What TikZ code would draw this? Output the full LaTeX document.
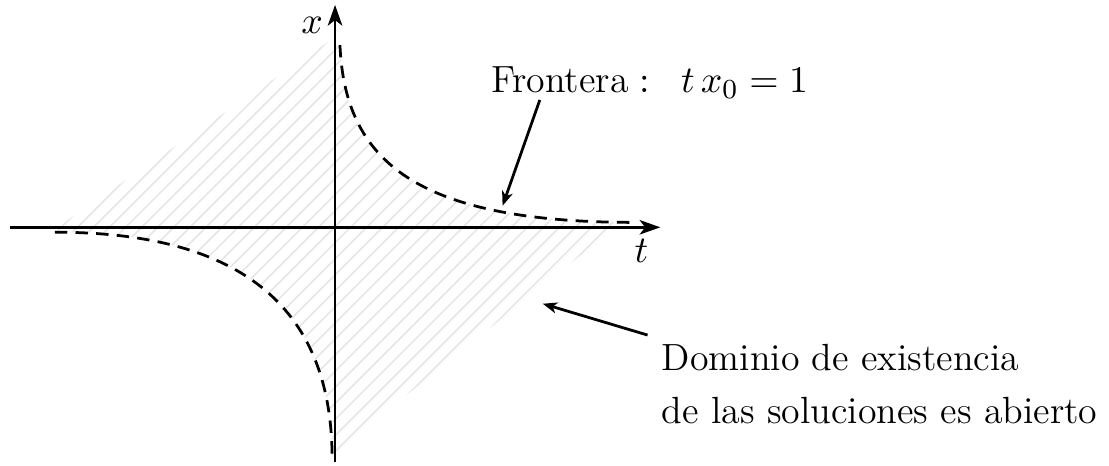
\documentclass[tikz,border=0pt]{standalone}
\usepackage{amsmath}
\usetikzlibrary{arrows.meta,patterns.meta}
\tikzset{
	eje/.style={thick,-{Stealth[length=6pt,width=4.2pt,inset=1.6pt]}},
	frontera/.style={thick,dash pattern=on 3.6pt off 2.4pt},
	flecha/.style={thick,-{Stealth[length=4.2pt,width=3.2pt,inset=1.2pt]}},
	rayado/.style={pattern={Lines[angle=45,distance=3.3pt,line width=.45pt]},pattern color=gray!20}
}
\begin{document}
\begin{tikzpicture}[font=\fontsize{11}{15.2}\selectfont]
		\useasboundingbox (-3.42,-2.43) rectangle (7.9,2.32);
		\coordinate (tmin) at (-3.32,0);
		\coordinate (tmax) at (3.32,0);
		\coordinate (xmin) at (0,-2.4);
		\coordinate (xmax) at (0,2.27);
		\coordinate (a0) at (0.05,1.86);
		\coordinate (a1) at (3.06,0.05);
		\coordinate (b0) at (-2.86,-0.05);
		\coordinate (b1) at (-0.03,-2.36);
		\fill[rayado] (-2.84,0) -- (0,1.94) -- (a0) .. controls (0.10,0.68) and (0.82,0.05) .. (a1) -- (2.86,0) -- (0,-2.3) -- (b1) .. controls (-0.03,-0.69) and (-1.12,-0.05) .. (b0) -- cycle;%zona rayada
		
		\draw[eje] (tmin) to (tmax);
		\draw[eje] (xmin) to (xmax);
		\node[below left] (tlab) at (tmax) {$t$};
		\node[below left] (xlab) at (xmax) {$x$};
		
		\draw[frontera] (a0) .. controls (0.10,0.68) and (0.82,0.05) .. (a1);%rama t>0
		\draw[frontera] (b0) .. controls (-1.12,-0.05) and (-0.03,-0.69) .. (b1);%rama t<0
		
		\node (front) at (3.21,1.48) {$\text{Frontera}:\;\; t\,x_0=1$};
		\coordinate (f0) at (2.09,1.30);
		\coordinate (f1) at (1.71,0.22);
		\draw[flecha] (f0) to (f1);
		
		\node[align=left] (dom) at (5.56,-1.60) {Dominio de existencia\\de las soluciones es abierto};
		\coordinate (d0) at (3.19,-1.10);
		\coordinate (d1) at (2.12,-0.78);
		\draw[flecha] (d0) to (d1);
	\end{tikzpicture}
\end{document}
